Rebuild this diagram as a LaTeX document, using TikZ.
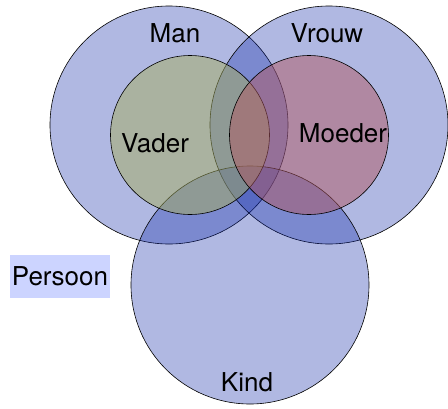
\documentclass[tikz,border=0pt]{standalone}
\usepackage{fontspec}
\setmainfont{TeX Gyre Heros}
\usetikzlibrary{positioning}

\definecolor{setblue}{RGB}{15,40,167}
\definecolor{vadergreen}{RGB}{164,172,94}
\definecolor{moederred}{RGB}{176,88,98}
\definecolor{persoonbg}{RGB}{204,212,255}

\tikzset{
  set/.style={circle, draw=black, line width=0.6pt, inner sep=0pt},
  outerset/.style={set, fill=setblue, fill opacity=0.33, minimum size=238pt},
  innerset/.style={set, fill opacity=0.5, minimum size=159pt},
  setlabel/.style={font=\fontsize{26}{30}\selectfont, inner sep=0pt}
}

\begin{document}
\begin{tikzpicture}[x=1pt, y=-1pt]
  \useasboundingbox (0,0) rectangle (448,408);
  \node[outerset] (man)   at (169,125) {};
  \node[outerset] (vrouw) at (329,125) {};
  \node[outerset] (kind)  at (250,285) {};
  \node[innerset, fill=vadergreen] (vader)  at (190,135) {};
  \node[innerset, fill=moederred]  (moeder) at (309,135) {};

  \node[setlabel] (manlabel)    at (175,33)  {Man};
  \node[setlabel] (vrouwlabel)  at (327,33)  {Vrouw};
  \node[setlabel] (vaderlabel)  at (155,143) {Vader};
  \node[setlabel] (moederlabel) at (343,133) {Moeder};
  \node[setlabel] (kindlabel)   at (247,382) {Kind};
  \node[setlabel, fill=persoonbg, minimum width=100pt, minimum height=43pt]
    (persoon) at (60,276) {Persoon};
\end{tikzpicture}
\end{document}
